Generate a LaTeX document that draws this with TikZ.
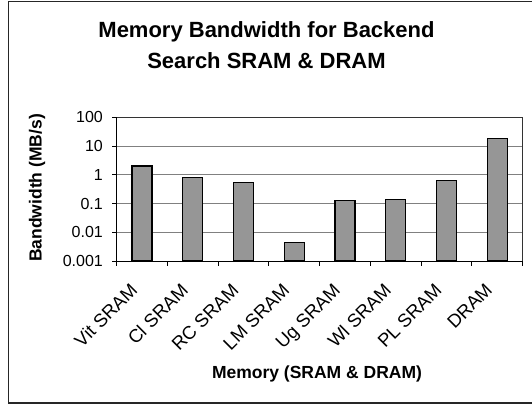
\documentclass[tikz,border=0pt]{standalone}
\usepackage{fontspec}
\setmainfont{Liberation Sans}
\definecolor{barfill}{RGB}{150,150,150}
\definecolor{gridc}{RGB}{128,128,128}
\begin{document}
\begin{tikzpicture}[x=1pt,y=-1pt,
  gridline/.style={draw=gridc, line width=0.9pt},
  barbox/.style={fill=barfill, draw=black, line width=1.3pt},
  ticklab/.style={font=\fontsize{16}{19}\selectfont, anchor=east, inner sep=0pt},
  catlab/.style={font=\fontsize{18.5}{22}\selectfont, anchor=north east, rotate=45, inner sep=0pt},
  axtitle/.style={font=\bfseries\fontsize{17.5}{20}\selectfont, inner sep=0pt},
  charttitle/.style={font=\bfseries\fontsize{22}{31}\selectfont, align=center, inner sep=0pt}]
\useasboundingbox (0,0) rectangle (532,404);
\fill[white] (0,0) rectangle (532,404);
\draw[line width=1.6pt, black!85] (534,1.5) -- (8.3,1.5) -- (8.3,403) -- (534,403);
% plot geometry
\def\pL{116.7}\def\pR{522.7}\def\pT{117.3}\def\dec{28.74}\def\cw{50.75}
% gridlines
\foreach \k in {1,2,3,4} {
  \draw[gridline] (\pL,\pT+\k*\dec) -- (\pR,\pT+\k*\dec);
}
% plot frame top/right
\draw[draw=black!80, line width=1pt] (\pL,\pT) -- (\pR,\pT) -- (\pR,\pT+5*\dec);
% bars
\foreach \v [count=\i] in {2.0,0.81,0.54,0.0043,0.124,0.139,0.65,18.5} {
  \pgfmathsetmacro{\yt}{\pT+(2-ln(\v)/ln(10))*\dec}
  \pgfmathsetmacro{\xc}{\pL+(\i-0.5)*\cw}
  \draw[barbox] (\xc-10,\pT+5*\dec) rectangle (\xc+10,\yt);
}
% axes
\draw[black, line width=1pt] (\pL,\pT) -- (\pL,\pT+5*\dec) -- (\pR,\pT+5*\dec);
% y ticks and labels
\foreach \lab [count=\k from 0] in {100,10,1,0.1,0.01,0.001} {
  \draw[black, line width=1pt] (\pL-4.5,\pT+\k*\dec) -- (\pL,\pT+\k*\dec);
  \node[ticklab] (yl\k) at (103,\pT+\k*\dec) {\lab};
}
% x ticks
\foreach \j in {0,...,8} {
  \draw[black, line width=1pt] (\pL+\j*\cw,\pT+5*\dec) -- (\pL+\j*\cw,\pT+5*\dec+4.5);
}
% category labels
\foreach \lab [count=\i] in {Vit SRAM,Cl SRAM,RC SRAM,LM SRAM,Ug SRAM,Wl SRAM,PL SRAM,DRAM} {
  \pgfmathsetmacro{\xc}{\pL+(\i-0.5)*\cw}
  \node[catlab] (cl\i) at (\xc-13,282) {\lab};
}
% titles
\node[axtitle] (xt) at (317,374) {Memory (SRAM \& DRAM)};
\node[axtitle, rotate=90] (yt) at (37,188) {Bandwidth (MB/s)};
\node[charttitle] (tt) at (266.5,45) {Memory Bandwidth for Backend\\Search SRAM \& DRAM};
\end{tikzpicture}
\end{document}
